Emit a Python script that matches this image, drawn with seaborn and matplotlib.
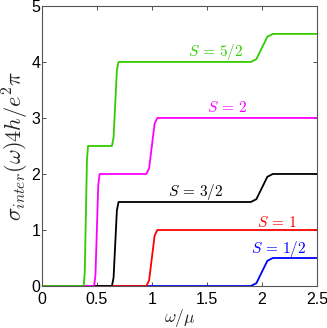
import pandas as pd
import matplotlib
matplotlib.use("Agg")
import matplotlib.pyplot as plt
import seaborn as sns

# curves (omega/mu, sigma)
s12_x = [0, 1.90, 1.95, 2.00, 2.05, 2.10, 2.5]
s12_y = [0, 0, 0.05, 0.25, 0.45, 0.5, 0.5]

s1_x = [0, 0.95, 0.975, 1.0, 1.025, 1.05, 2.5]
s1_y = [0, 0, 0.1, 0.5, 0.9, 1.0, 1.0]

s32_x = [0, 0.637, 0.652, 0.667, 0.682, 0.697, 1.90, 1.95, 2.00, 2.05, 2.10, 2.5]
s32_y = [0, 0, 0.15, 0.75, 1.35, 1.5, 1.5, 1.55, 1.75, 1.95, 2.0, 2.0]

s2_x = [0, 0.475, 0.4875, 0.5, 0.5125, 0.525, 0.95, 0.975, 1.0, 1.025, 1.05, 2.5]
s2_y = [0, 0, 0.2, 1.0, 1.8, 2.0, 2.0, 2.1, 2.5, 2.9, 3.0, 3.0]

s52_x = [0, 0.38, 0.39, 0.40, 0.41, 0.42, 0.637, 0.652, 0.667, 0.682, 0.697,
         1.90, 1.95, 2.00, 2.05, 2.10, 2.5]
s52_y = [0, 0, 0.25, 1.25, 2.25, 2.5, 2.5, 2.65, 3.25, 3.85, 4.0,
         4.0, 4.05, 4.25, 4.45, 4.5, 4.5]

labels = [r'$S\,=\,1/2$', r'$S\,=\,1$', r'$S\,=\,3/2$', r'$S\,=\,2$', r'$S\,=\,5/2$']
colors = ['#0000ff', '#ff0000', '#000000', '#ff00ff', '#33cc00']
label_pos = [(1.90, 0.66), (1.96, 1.14), (1.145, 1.68), (1.50, 3.18), (1.33, 4.18)]

sns.set_style('ticks')
plt.rcParams['font.family'] = ['Liberation Sans', 'DejaVu Sans']
plt.rcParams['mathtext.fontset'] = 'cm'

fig = plt.figure(figsize=(3.27, 3.28), dpi=100)
ax = fig.add_axes([0.128, 0.128, 0.841, 0.854])

curves = [(s12_x, s12_y), (s1_x, s1_y), (s32_x, s32_y), (s2_x, s2_y), (s52_x, s52_y)]
for (xs, ys), c in zip(curves, colors):
    df = pd.DataFrame({'w': xs, 'sigma': ys})
    sns.lineplot(data=df, x='w', y='sigma', color=c, lw=1.3, sort=False,
                 estimator=None, ax=ax)

for lab, c, (tx, ty) in zip(labels, colors, label_pos):
    ax.text(tx, ty, lab, color=c, fontsize=11, ha='left', va='center')

ax.set_xlim(0, 2.5)
ax.set_ylim(0, 5)
ax.set_xticks([0, 0.5, 1, 1.5, 2, 2.5])
ax.set_xticklabels(['0', '0.5', '1', '1.5', '2', '2.5'])
ax.set_yticks([0, 1, 2, 3, 4, 5])
ax.tick_params(direction='in', top=True, right=True, length=3, width=0.6,
               labelsize=11.5, colors='#333333', labelcolor='black')
ax.tick_params(axis='x', pad=4.5)
ax.tick_params(axis='y', pad=1)
for sp in ax.spines.values():
    sp.set_color('#555555')
    sp.set_linewidth(0.8)
ax.set_xlabel(r'$\omega/\mu$', fontsize=12.5, labelpad=0)
ax.set_ylabel(r'$\sigma_{inter}(\omega)4h/e^2\pi$', fontsize=16, labelpad=0)

fig.savefig('out.png', dpi=100)
